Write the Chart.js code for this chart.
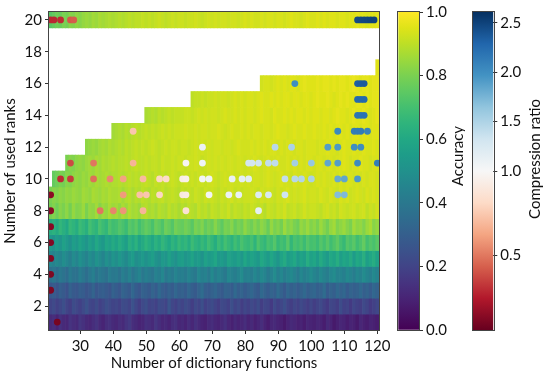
<!DOCTYPE html>
<html>
<head>
<meta charset="utf-8">
<script src="https://cdn.jsdelivr.net/npm/chart.js@4.4.1/dist/chart.umd.min.js"></script>
<style>
  html, body { margin: 0; padding: 0; background: #fff; }
  #wrap { position: relative; width: 545px; height: 382px; overflow: hidden; }
  canvas { position: absolute; top: 0; }
</style>
</head>
<body>
<div id="wrap">
  <canvas id="main" width="400" height="382" style="left:0px"></canvas>
  <canvas id="accBar" width="75" height="382" style="left:390px"></canvas>
  <canvas id="crBar" width="80" height="382" style="left:465px"></canvas>
</div>
<script>
// axis ticks
const xTicks = [30, 40, 50, 60, 70, 80, 90, 100, 110, 120];
const yTicks = [2, 4, 6, 8, 10, 12, 14, 16, 18, 20];
const accTicks = [0, 0.2, 0.4, 0.6, 0.8, 1.0];
const crTicks = [0.5, 1.0, 1.5, 2.0, 2.5];

// accuracy (%) per rank, starting at the first dictionary size of that row
const accRank1 = [
  12,13,10,14,12,11,15,13,12,16,14,12,11,13,15,12,10,13,14,12,
  11,13,12,15,17,13,12,10,11,14,13,12,16,13,11,12,10,13,14,11,
  12,10,13,11,14,12,10,9,12,13,11,10,12,14,11,9,12,10,11,13,
  10,12,9,11,13,10,8,11,12,10,9,7,10,12,11,9,10,8,11,10,
  9,11,10,8,12,10,7,9,11,10,8,10,9,7,11,9,8,10,9,8];
const accRank2 = [
  20,22,19,21,24,20,18,23,21,19,22,25,21,20,23,19,21,24,22,20,
  21,19,23,22,20,25,21,18,22,24,20,21,19,23,22,20,26,21,19,22,
  20,23,21,18,22,20,24,19,21,23,20,18,22,21,19,24,20,22,18,21,
  19,22,20,23,18,21,20,17,22,19,21,24,20,18,21,19,22,20,18,21,
  18,20,22,19,17,21,20,18,23,19,20,17,21,19,18,22,20,17,19,21];
const accRank3 = [
  27,29,26,30,28,25,31,28,27,30,29,26,28,32,27,29,30,28,26,31,
  29,27,32,30,28,33,29,27,31,30,28,32,29,34,30,28,31,29,33,30,
  31,29,33,30,28,32,35,30,29,31,33,30,28,32,31,29,34,30,32,29,
  31,33,30,28,34,31,29,32,30,35,31,28,33,30,32,29,31,34,30,32,
  33,30,31,35,29,32,30,34,31,33,29,32,30,31,34,30,32,29,33,31];
const accRank4 = [
  37,39,36,40,38,35,41,38,37,42,39,36,40,43,38,41,39,37,42,40,
  41,38,43,40,44,39,42,45,40,43,41,39,44,42,46,40,43,41,45,42,
  43,41,45,42,40,46,43,44,41,47,42,45,43,40,46,44,42,45,48,43,
  44,42,46,43,47,45,41,44,48,43,46,42,45,47,44,41,46,43,45,48,
  45,43,47,44,42,46,48,44,45,43,47,45,42,46,44,48,45,43,47,44];
const accRank5 = [
  46,44,47,45,49,46,43,48,45,50,47,44,49,46,51,48,45,50,47,52,
  49,53,50,47,52,55,49,51,54,50,53,56,51,49,54,52,57,53,50,55,
  56,52,54,58,53,55,51,57,54,56,59,53,55,52,58,56,54,57,53,59,
  55,58,56,53,60,57,54,59,56,52,58,61,55,57,60,54,58,56,62,57,
  59,55,61,57,54,60,58,62,56,59,57,61,55,60,58,63,56,59,62,57];
const accRank6 = [
  53,51,55,52,57,54,50,56,53,58,55,52,57,54,60,56,53,59,57,61,
  58,62,59,56,63,60,64,58,61,65,62,59,64,61,66,63,60,65,62,67,
  64,66,62,68,65,63,67,64,69,66,62,68,65,70,67,64,69,66,71,68,
  67,70,65,72,68,66,71,69,73,67,70,68,74,66,71,69,72,68,73,70,
  71,68,73,70,74,69,72,75,70,67,73,71,74,69,72,76,70,73,71,74];
const accRank7 = [
  62,64,61,66,63,60,67,65,62,68,66,63,70,67,65,71,68,66,72,69,
  70,73,71,68,74,72,75,70,73,76,74,71,77,75,72,78,76,73,79,77,
  76,79,77,74,80,78,81,76,79,77,82,78,75,80,79,82,77,80,78,83,
  80,78,82,79,83,81,77,84,80,82,79,85,81,83,80,78,84,82,85,81,
  83,80,85,82,79,84,86,81,83,85,82,80,86,83,84,81,85,87,82,84];
const accRank8 = [
  79,81,78,82,80,83,79,84,81,82,85,80,84,83,86,82,85,84,87,85,
  86,84,87,85,88,86,87,85,88,89,87,88,86,89,88,87,90,88,89,87,
  89,88,90,89,88,91,89,90,88,91,90,89,91,90,92,89,91,90,89,91,
  90,92,91,90,91,89,92,91,90,92,91,93,90,91,92,90,91,93,91,92,
  92,91,90,92,93,91,92,90,93,92,91,92,93,91,92,93,90,92,91,93];
const accRank9 = [
  80,82,81,83,82,84,83,85,84,83,86,85,84,87,86,85,87,86,88,87,
  87,88,86,88,89,87,89,88,90,89,88,90,89,90,91,89,90,91,90,89,
  91,90,91,90,92,91,90,92,91,92,91,90,92,91,92,93,91,92,91,92,
  92,93,92,91,93,92,93,92,91,93,92,93,94,92,93,92,93,94,92,93,
  93,92,94,93,92,94,93,92,94,93,94,92,93,94,93,92,94,93,94,93];
const accRank10 = [
  76,78,80,79,82,81,83,84,83,85,84,86,85,87,86,87,88,87,88,
  88,89,88,89,90,89,90,89,90,91,90,89,91,90,91,90,91,92,91,90,
  91,92,91,92,91,92,92,91,92,93,92,91,92,93,92,93,92,92,93,92,
  93,92,93,93,92,93,94,93,92,93,94,93,93,92,94,93,93,94,93,92,
  93,94,93,94,93,93,94,93,94,93,94,94,93,94,93,94,93,94,94,93];
const accRank11 = [
  80,82,81,83,84,83,85,86,85,87,86,88,87,88,89,
  88,89,89,90,89,90,91,90,90,91,90,91,91,90,92,91,91,92,91,92,
  92,91,92,92,93,92,91,92,93,92,93,92,93,92,93,93,92,93,93,92,
  93,93,94,93,92,93,94,93,93,94,93,93,94,93,94,93,94,93,94,94,
  93,94,94,93,94,94,93,94,94,95,94,93,94,94,95,94,94,93,94,94];
const accRank12 = [
  83,84,85,84,86,87,86,88,87,
  88,89,88,90,89,90,91,90,91,90,91,92,91,90,91,92,91,92,92,91,
  92,92,91,92,93,92,93,92,93,92,93,93,92,93,93,92,93,94,93,93,
  93,94,93,94,93,94,93,94,94,93,94,93,94,94,93,94,94,93,94,94,
  94,93,94,94,95,94,94,93,94,95,94,94,95,94,94,95,94,94,95,94];
const accRank13 = [
  86,
  87,88,87,89,88,89,90,89,90,91,90,91,90,91,92,91,92,91,92,92,
  92,93,92,92,93,92,93,93,92,93,93,94,93,92,93,94,93,93,94,93,
  94,93,94,94,93,94,94,93,94,95,94,94,93,94,95,94,94,95,94,94,
  95,94,94,95,94,95,94,95,95,94,95,94,95,95,94,95,95,94,95,95];
const accRank14 = [
  87,88,89,88,90,89,90,91,90,91,91,
  91,92,92,91,92,93,92,93,92,93,93,92,93,94,93,93,94,93,94,93,
  94,94,93,94,95,94,94,93,95,94,94,95,94,95,94,95,95,94,95,94,
  95,95,94,95,95,94,95,96,95,95,94,95,96,95,95,96,95,94,95,96];
const accRank15 = [
  90,91,91,92,91,92,92,93,92,93,93,92,93,94,93,94,93,
  94,94,93,94,95,94,94,95,94,95,94,95,95,94,95,95,94,95,95,94,
  95,96,95,95,96,95,94,95,96,95,96,95,95,96,96,95,96,95,96,96];
const accRank16 = [
  93,94,94,93,94,95,94,95,94,95,95,94,95,96,95,95,
  95,96,95,96,96,95,96,95,96,96,95,96,97,96,95,96,96,95,96,96];
const accRank17 = [95];
const accRank20 = [
  74,76,78,77,80,79,82,81,83,82,84,85,84,86,85,87,86,87,88,87,
  88,89,88,89,90,89,90,90,91,90,91,90,91,92,91,90,91,92,91,92,
  92,91,92,92,93,92,91,92,93,92,93,92,93,93,92,93,93,92,93,94,
  93,94,93,93,94,93,94,94,93,94,94,93,94,95,94,94,93,94,95,94,
  94,95,94,95,94,95,95,94,95,95,94,95,95,96,95,95,94,95,95,96];

// [rank, first dictionary size, accuracy row]
const heatRows = [
  [1, 21, accRank1], [2, 21, accRank2], [3, 21, accRank3], [4, 21, accRank4],
  [5, 21, accRank5], [6, 21, accRank6], [7, 21, accRank7], [8, 21, accRank8],
  [9, 21, accRank9], [10, 22, accRank10], [11, 26, accRank11], [12, 32, accRank12],
  [13, 40, accRank13], [14, 50, accRank14], [15, 64, accRank15], [16, 85, accRank16],
  [17, 120, accRank17], [20, 21, accRank20]
];

// marked configurations: dictionary size, rank, compression ratio
const pointDict = [
  21,22,24,27,28,114,115,116,117,118,119,
  95,114,115,116,
  114,115,116,
  114,115,116,
  46,108,113,114,115,117,
  67,89,94,105,108,113,115,
  27,34,46,62,67,81,82,84,87,89,95,100,105,108,114,120,
  24,27,34,39,43,49,54,56,61,62,67,69,76,79,81,92,95,97,100,108,110,114,
  21,43,48,50,54,61,62,69,75,78,84,87,92,108,110,
  21,36,40,43,49,62,84,
  21,21,21,21,21,23];
const pointRank = [
  20,20,20,20,20,20,20,20,20,20,20,
  16,16,16,16,
  15,15,15,
  14,14,14,
  13,13,13,13,13,13,
  12,12,12,12,12,12,12,
  11,11,11,11,11,11,11,11,11,11,11,11,11,11,11,11,
  10,10,10,10,10,10,10,10,10,10,10,10,10,10,10,10,10,10,10,10,10,10,
  9,9,9,9,9,9,9,9,9,9,9,9,9,9,9,
  8,8,8,8,8,8,8,
  7,6,5,4,3,1];
const pointRatio = [
  0.29,0.29,0.30,0.42,0.43,2.45,2.46,2.47,2.48,2.49,2.50,
  2.00,2.33,2.35,2.36,
  2.25,2.26,2.27,
  2.18,2.19,2.20,
  0.74,2.03,2.12,2.13,2.14,2.08,
  1.10,1.45,1.52,1.90,1.93,2.00,2.01,
  0.38,0.50,0.68,0.98,1.06,1.30,1.30,1.32,1.40,1.41,1.55,1.62,1.85,1.90,2.02,2.12,
  0.30,0.34,0.48,0.55,0.62,0.70,0.80,0.82,0.93,0.95,1.04,1.06,1.12,1.16,1.18,1.40,1.46,1.48,1.52,1.82,1.85,1.92,
  0.15,0.60,0.72,0.74,0.80,0.90,0.92,1.04,1.10,1.12,1.22,1.26,1.33,1.70,1.72,
  0.14,0.50,0.54,0.58,0.68,0.86,1.15,
  0.14,0.13,0.13,0.12,0.12,0.10];

// colour maps
const VIRIDIS = ['#440154','#471365','#482475','#463480','#414487','#3b528b','#355f8d',
  '#2f6c8e','#2a788e','#25848e','#21918c','#1e9c89','#22a884','#2fb47c','#44bf70',
  '#5ec962','#7ad151','#9bd93c','#bddf26','#dfe318','#fde725'];
const RDBU = ['#67001f','#b2182b','#d6604d','#f4a582','#fddbc7','#f7f7f7',
  '#d1e5f0','#92c5de','#4393c3','#2166ac','#053061'];

function hexRgb(h) {
  return [parseInt(h.slice(1, 3), 16), parseInt(h.slice(3, 5), 16), parseInt(h.slice(5, 7), 16)];
}
function sample(stops, t) {
  t = Math.min(1, Math.max(0, t));
  const p = t * (stops.length - 1);
  const i = Math.min(Math.floor(p), stops.length - 2);
  const f = p - i;
  const a = hexRgb(stops[i]), b = hexRgb(stops[i + 1]);
  const c = a.map((v, k) => Math.round(v + (b[k] - v) * f));
  return `rgb(${c[0]},${c[1]},${c[2]})`;
}

// two-slope norm around 1.0
const crMin = 0.06, crCenter = 1.0, crMax = 2.61;
function crNorm(v) {
  return v < crCenter ? 0.5 * (v - crMin) / (crCenter - crMin)
                      : 0.5 + 0.5 * (v - crCenter) / (crMax - crCenter);
}
function crInv(n) {
  return n < 0.5 ? crMin + n * 2 * (crCenter - crMin)
                 : crCenter + (n - 0.5) * 2 * (crMax - crCenter);
}

const FONT = 'Lato, "DejaVu Sans", sans-serif';
const INK = '#111';
Chart.defaults.font.family = FONT;
Chart.defaults.color = INK;

// box around the plotting area
const frame = {
  id: 'frame',
  afterDatasetsDraw(chart) {
    const { ctx, chartArea: a } = chart;
    ctx.save();
    ctx.strokeStyle = '#444';
    ctx.lineWidth = 1;
    ctx.strokeRect(Math.round(a.left) - 0.5, Math.round(a.top) - 0.5,
      Math.round(a.right - a.left) + 1, Math.round(a.bottom - a.top) + 1);
    ctx.restore();
  }
};

// colorbar label, reading bottom to top
const cbTitle = {
  id: 'cbTitle',
  afterDraw(chart, args, o) {
    const c = chart.ctx;
    c.save();
    c.translate(o.x, o.y);
    c.rotate(-Math.PI / 2);
    c.font = '15px ' + FONT;
    c.fillStyle = INK;
    c.textAlign = 'center';
    c.textBaseline = 'middle';
    c.fillText(o.text, 0, 0);
    c.restore();
  }
};

const cells = [];
heatRows.forEach(([rank, start, vals]) => {
  vals.forEach((a, i) => cells.push({ x: start + i, y: [rank - 0.5, rank + 0.5], acc: a / 100 }));
});
const points = pointDict.map((d, i) => ({ x: d, y: pointRank[i], cr: pointRatio[i] }));

const tickGrid = { display: true, drawOnChartArea: false, drawTicks: true, tickLength: 4, tickColor: '#333', offset: false };

new Chart(document.getElementById('main'), {
  type: 'bar',
  data: {
    datasets: [
      {
        type: 'scatter',
        data: points,
        order: 0,
        pointRadius: 3.4,
        pointHoverRadius: 3.4,
        pointBorderWidth: 0,
        pointBackgroundColor: c => c.raw ? sample(RDBU, crNorm(c.raw.cr)) : '#000',
        pointBorderColor: 'rgba(0,0,0,0)'
      },
      {
        type: 'bar',
        data: cells,
        order: 1,
        grouped: false,
        barPercentage: 1,
        categoryPercentage: 1,
        borderWidth: 0,
        backgroundColor: c => c.raw ? sample(VIRIDIS, c.raw.acc) : '#000'
      }
    ]
  },
  options: {
    responsive: false,
    animation: false,
    devicePixelRatio: 1,
    layout: { padding: { top: 9, right: 21, bottom: 0, left: 0 } },
    plugins: { legend: { display: false }, tooltip: { enabled: false } },
    scales: {
      x: {
        type: 'linear', min: 20.5, max: 120.5, offset: false,
        afterBuildTicks: s => { s.ticks = xTicks.map(v => ({ value: v })); },
        afterFit: s => { s.height = 52; },
        grid: tickGrid,
        border: { display: false },
        ticks: { font: { size: 15 }, color: INK, padding: 3, maxRotation: 0, autoSkip: false },
        title: { display: true, text: 'Number of dictionary functions', font: { size: 15 }, color: INK, padding: { top: 0, bottom: 10 } }
      },
      y: {
        type: 'linear', min: 0.5, max: 20.5,
        afterBuildTicks: s => { s.ticks = yTicks.map(v => ({ value: v })); },
        afterFit: s => { s.width = 49; },
        grid: tickGrid,
        border: { display: false },
        ticks: { font: { size: 15 }, color: INK, padding: 3, autoSkip: false },
        title: { display: true, text: 'Number of used ranks', font: { size: 15 }, color: INK, padding: { top: 1, bottom: 0 } }
      }
    }
  },
  plugins: [frame]
});

function colorbar(id, stops, padLeft, axisWidth, ticks, label, title) {
  return new Chart(document.getElementById(id), {
    type: 'bar',
    data: {
      labels: [''],
      datasets: [{
        data: [[0, 1]],
        barPercentage: 1,
        categoryPercentage: 1,
        borderWidth: 0,
        backgroundColor: c => {
          const a = c.chart.chartArea;
          if (!a) return stops[0];
          const g = c.chart.ctx.createLinearGradient(0, a.bottom, 0, a.top);
          stops.forEach((s, i) => g.addColorStop(i / (stops.length - 1), s));
          return g;
        }
      }]
    },
    options: {
      responsive: false,
      animation: false,
      devicePixelRatio: 1,
      layout: { padding: { top: 9, right: 0, bottom: 52, left: padLeft } },
      plugins: { legend: { display: false }, tooltip: { enabled: false }, cbTitle: title },
      scales: {
        x: { type: 'category', display: false },
        y: {
          type: 'linear', position: 'right', min: 0, max: 1,
          afterBuildTicks: s => { s.ticks = ticks.map(v => ({ value: v })); },
          afterFit: s => { s.width = axisWidth; },
          grid: tickGrid,
          border: { display: false },
          ticks: { font: { size: 15 }, color: INK, padding: 3, autoSkip: false, callback: label }
        }
      }
    },
    plugins: [frame, cbTitle]
  });
}

colorbar('accBar', VIRIDIS, 8.3, 46, accTicks, v => v.toFixed(1),
  { text: 'Accuracy', x: 68.3, y: 156 });
colorbar('crBar', RDBU, 7.7, 51.7, crTicks.map(crNorm), v => crInv(v).toFixed(1),
  { text: 'Compression ratio', x: 70, y: 159 });
</script>
</body>
